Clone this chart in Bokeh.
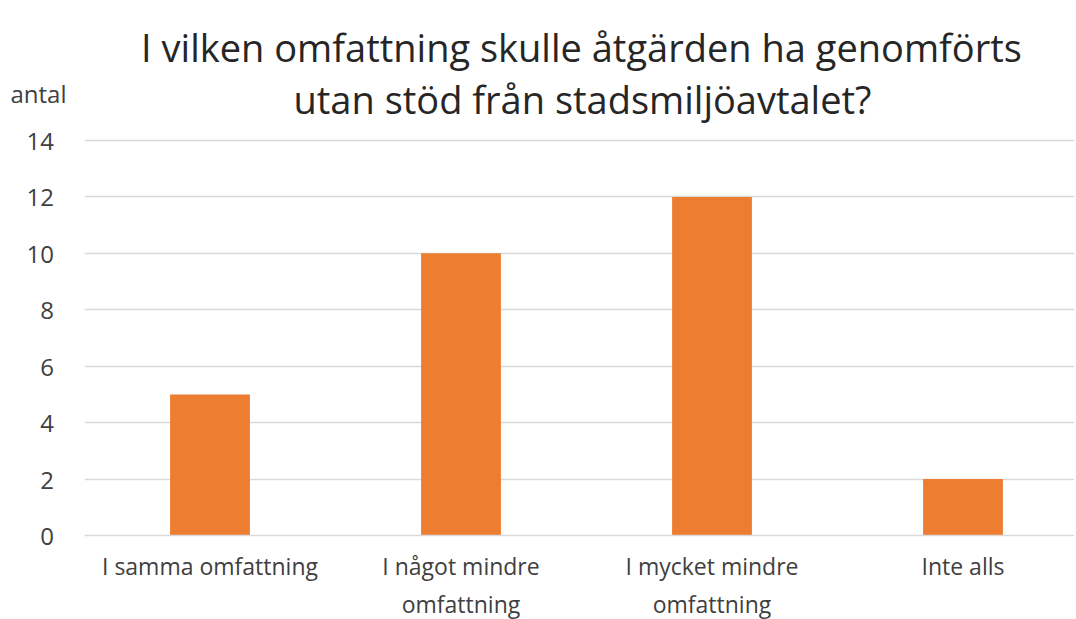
from bokeh.plotting import figure
from bokeh.models import Range1d, FixedTicker, Label, ColumnDataSource
from bokeh.embed import file_html
from bokeh.resources import INLINE

categories = ["I samma omfattning", "I något mindre\nomfattning", "I mycket mindre\nomfattning", "Inte alls"]
values = [5, 10, 12, 2]
y_ticks = [0, 2, 4, 6, 8, 10, 12, 14]
title_lines = ["I vilken omfattning skulle åtgärden ha genomförts", "utan stöd från stadsmiljöavtalet?"]
y_label = "antal"

FONT = "Open Sans"
TXT = "#404040"
TITLE_C = "#262626"

PX_PER_UNIT = 395 / 14.0      # vertical scale of the value axis
PX_PER_CAT = 251.0            # horizontal spacing of categories
LEFT = 84
FRAME_W = 990
FRAME_H = 535

xs = [i + 0.5 for i in range(len(categories))]
src = ColumnDataSource(dict(x=xs, top=values))

p = figure(frame_width=FRAME_W, frame_height=FRAME_H, output_backend="svg", toolbar_location=None,
           x_range=Range1d(0, FRAME_W / PX_PER_CAT), y_range=Range1d(0, FRAME_H / PX_PER_UNIT),
           min_border_left=LEFT, min_border_right=0, min_border_top=0, min_border_bottom=6)
p.outline_line_color = None
p.background_fill_color = "white"

p.vbar(x="x", top="top", width=0.318, source=src, color="#ED7D31", line_color=None)

# unit label sits on the value axis, above the top tick
unit_pos = (FRAME_H - 92.6) / PX_PER_UNIT
p.xgrid.grid_line_color = None
p.ygrid.ticker = FixedTicker(ticks=y_ticks)
p.ygrid.grid_line_color = "#D9D9D9"
p.ygrid.grid_line_width = 1.3
p.yaxis.ticker = FixedTicker(ticks=y_ticks + [unit_pos])
nb = "\u00a0\u00a0"
ovr = {t: f"{t}{nb}" for t in y_ticks}
ovr[unit_pos] = y_label
p.yaxis.major_label_overrides = ovr
p.xaxis.ticker = FixedTicker(ticks=xs)
p.xaxis.major_label_overrides = {x: c for x, c in zip(xs, categories)}

for ax in (p.xaxis, p.yaxis):
    ax.axis_line_color = None
    ax.major_tick_line_color = None
    ax.minor_tick_line_color = None
    ax.major_label_text_font = FONT
    ax.major_label_text_color = TXT
p.yaxis.major_label_text_font_size = "24px"
p.xaxis.major_label_text_font_size = "23px"
p.xaxis.axis_line_color = "#D9D9D9"
p.xaxis.axis_line_width = 1.3
p.yaxis.major_label_standoff = 12
p.xaxis.major_label_standoff = 8

# two-line chart title inside the upper free area
p.add_layout(Label(x=(581 - LEFT) / PX_PER_CAT, y=(FRAME_H - 46) / PX_PER_UNIT, text=title_lines[0],
                   text_align="center", text_baseline="alphabetic",
                   text_font=FONT, text_font_size="38px", text_color=TITLE_C))
p.add_layout(Label(x=(582 - LEFT) / PX_PER_CAT, y=(FRAME_H - 98) / PX_PER_UNIT, text=title_lines[1],
                   text_align="center", text_baseline="alphabetic",
                   text_font=FONT, text_font_size="38px", text_color=TITLE_C))

open("out.html", "w").write(file_html(p, INLINE))
